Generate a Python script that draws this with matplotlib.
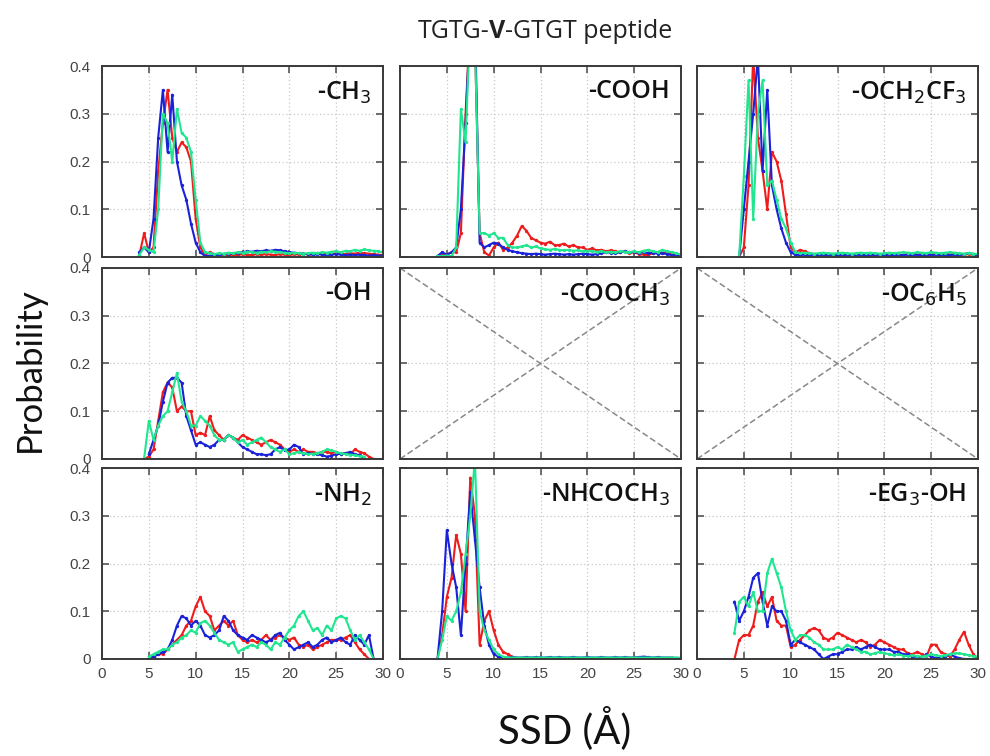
import numpy as np
import matplotlib
matplotlib.use("Agg")
import matplotlib.pyplot as plt

# ---------------- data ----------------
SSD = np.arange(4.0, 30.01, 0.5)   # 53 points, 4.0 .. 30.0 Å

labels = ["-CH$_3$", "-COOH", "-OCH$_2$CF$_3$",
          "-OH", "-COOCH$_3$", "-OC$_6$H$_5$",
          "-NH$_2$", "-NHCOCH$_3$", "-EG$_3$-OH"]

ch3_red = [0.005, 0.05, 0.01, 0.02, 0.18, 0.28, 0.35, 0.25, 0.22, 0.24,
           0.23, 0.20, 0.08, 0.02, 0.005, 0.01, 0.006, 0.004, 0.005, 0.004,
           0.005, 0.004, 0.006, 0.005, 0.004, 0.006, 0.005, 0.006, 0.005, 0.004,
           0.006, 0.005, 0.004, 0.006, 0.005, 0.007, 0.005, 0.006, 0.008, 0.006,
           0.007, 0.006, 0.008, 0.007, 0.006, 0.008, 0.007, 0.009, 0.008, 0.007,
           0.006, 0.005, 0.004]
ch3_blue = [0.01, 0.02, 0.01, 0.08, 0.25, 0.35, 0.22, 0.34, 0.20, 0.15,
            0.12, 0.07, 0.03, 0.01, 0.002, 0.003, 0.004, 0.005, 0.006, 0.007,
            0.008, 0.009, 0.010, 0.012, 0.011, 0.013, 0.012, 0.014, 0.013, 0.015,
            0.014, 0.012, 0.010, 0.009, 0.008, 0.007, 0.006, 0.005, 0.006, 0.005,
            0.004, 0.005, 0.006, 0.005, 0.004, 0.005, 0.004, 0.005, 0.004, 0.003,
            0.004, 0.003, 0.003]
ch3_green = [0.005, 0.02, 0.015, 0.01, 0.10, 0.30, 0.28, 0.20, 0.31, 0.26,
             0.25, 0.22, 0.12, 0.03, 0.01, 0.008, 0.006, 0.008, 0.007, 0.009,
             0.008, 0.010, 0.009, 0.011, 0.010, 0.009, 0.011, 0.010, 0.012, 0.011,
             0.010, 0.009, 0.008, 0.009, 0.008, 0.007, 0.008, 0.009, 0.008, 0.010,
             0.009, 0.011, 0.012, 0.010, 0.013, 0.012, 0.015, 0.013, 0.016, 0.014,
             0.013, 0.012, 0.010]

cooh_red = [0.0, 0.005, 0.005, 0.01, 0.01, 0.05, 0.30, 0.50, 0.45, 0.05,
            0.01, 0.003, 0.02, 0.03, 0.015, 0.02, 0.03, 0.045, 0.065, 0.055,
            0.04, 0.035, 0.03, 0.028, 0.032, 0.025, 0.025, 0.028, 0.022, 0.025,
            0.02, 0.02, 0.015, 0.018, 0.014, 0.015, 0.012, 0.014, 0.012, 0.01,
            0.012, 0.008, 0.01, 0.006, 0.005, 0.004, 0.008, 0.01, 0.008, 0.01,
            0.006, 0.004, 0.002]
cooh_blue = [0.002, 0.01, 0.005, 0.01, 0.02, 0.10, 0.28, 0.50, 0.50, 0.03,
             0.02, 0.025, 0.03, 0.028, 0.02, 0.015, 0.012, 0.01, 0.008, 0.007,
             0.006, 0.007, 0.006, 0.005, 0.006, 0.007, 0.006, 0.005, 0.006, 0.005,
             0.006, 0.007, 0.006, 0.005, 0.006, 0.008, 0.01, 0.009, 0.008, 0.01,
             0.012, 0.01, 0.011, 0.009, 0.01, 0.008, 0.009, 0.007, 0.008, 0.006,
             0.004, 0.003, 0.002]
cooh_green = [0.002, 0.002, 0.003, 0.002, 0.02, 0.31, 0.24, 0.50, 0.45, 0.05,
              0.05, 0.045, 0.05, 0.04, 0.04, 0.025, 0.02, 0.02, 0.022, 0.025,
              0.02, 0.022, 0.018, 0.016, 0.015, 0.017, 0.015, 0.014, 0.015, 0.013,
              0.014, 0.012, 0.013, 0.012, 0.011, 0.012, 0.01, 0.011, 0.01, 0.012,
              0.011, 0.01, 0.012, 0.01, 0.013, 0.015, 0.012, 0.01, 0.015, 0.012,
              0.01, 0.008, 0.005]

och2cf3_red = [None, 0.0, 0.02, 0.15, 0.42, 0.25, 0.18, 0.10, 0.22, 0.20,
               0.16, 0.09, 0.02, 0.01, 0.015, 0.012, 0.008, 0.006, 0.005, 0.006,
               0.005, 0.006, 0.005, 0.004, 0.006, 0.005, 0.006, 0.005, 0.004, 0.005,
               0.006, 0.005, 0.004, 0.005, 0.006, 0.005, 0.004, 0.006, 0.005, 0.006,
               0.005, 0.004, 0.006, 0.005, 0.006, 0.005, 0.006, 0.005, 0.006, 0.005,
               0.006, 0.005, 0.004]
och2cf3_blue = [None, 0.0, 0.10, 0.20, 0.30, 0.42, 0.18, 0.35, 0.15, 0.10,
                0.06, 0.03, 0.01, 0.005, 0.004, 0.005, 0.004, 0.005, 0.004, 0.005,
                0.004, 0.005, 0.004, 0.005, 0.004, 0.005, 0.004, 0.005, 0.004, 0.005,
                0.004, 0.005, 0.004, 0.005, 0.004, 0.005, 0.004, 0.005, 0.004, 0.005,
                0.004, 0.005, 0.004, 0.005, 0.004, 0.005, 0.004, 0.005, 0.004, 0.006,
                0.008, 0.006, 0.004]
och2cf3_green = [None, 0.0, 0.17, 0.37, 0.08, 0.30, 0.37, 0.15, 0.16, 0.12,
                 0.08, 0.06, 0.03, 0.01, 0.008, 0.009, 0.008, 0.007, 0.008, 0.009,
                 0.008, 0.007, 0.008, 0.009, 0.008, 0.007, 0.008, 0.009, 0.008, 0.009,
                 0.008, 0.007, 0.008, 0.009, 0.008, 0.009, 0.010, 0.009, 0.008, 0.010,
                 0.009, 0.008, 0.010, 0.009, 0.008, 0.009, 0.010, 0.009, 0.008, 0.007,
                 0.008, 0.007, 0.006]

oh_red = [None, 0.0, 0.005, 0.02, 0.08, 0.14, 0.16, 0.15, 0.10, 0.11,
          0.10, 0.10, 0.05, 0.055, 0.05, 0.09, 0.06, 0.05, 0.04, 0.05,
          0.045, 0.04, 0.05, 0.045, 0.04, 0.035, 0.03, 0.035, 0.04, 0.035,
          0.03, 0.02, 0.015, 0.02, 0.015, 0.02, 0.015, 0.015, 0.012, 0.015,
          0.015, 0.012, 0.015, 0.01, 0.012, 0.01, 0.02, 0.015, 0.012, 0.005,
          0.0, None, None]
oh_blue = [None, None, 0.01, 0.04, 0.07, 0.12, 0.16, 0.17, 0.17, 0.16,
           0.09, 0.06, 0.03, 0.035, 0.03, 0.025, 0.03, 0.04, 0.04, 0.05,
           0.045, 0.035, 0.025, 0.02, 0.015, 0.01, 0.01, 0.008, 0.01, 0.02,
           0.025, 0.018, 0.02, 0.03, 0.025, 0.01, 0.012, 0.011, 0.01, 0.008,
           0.005, 0.007, 0.01, 0.011, 0.012, 0.015, 0.01, 0.008, 0.002, None,
           None, None, None]
oh_green = [None, 0.002, 0.08, 0.04, 0.07, 0.09, 0.10, 0.14, 0.18, 0.12,
            0.10, 0.07, 0.07, 0.09, 0.08, 0.07, 0.05, 0.04, 0.04, 0.05,
            0.045, 0.035, 0.04, 0.03, 0.035, 0.04, 0.045, 0.035, 0.025, 0.02,
            0.015, 0.02, 0.01, 0.012, 0.015, 0.012, 0.01, 0.011, 0.012, 0.015,
            0.02, 0.018, 0.015, 0.012, 0.01, 0.009, 0.008, 0.006, 0.005, None,
            None, None, None]

nh2_red = [None, None, 0.0, 0.005, 0.01, 0.01, 0.02, 0.03, 0.04, 0.05,
           0.07, 0.08, 0.11, 0.13, 0.10, 0.09, 0.06, 0.07, 0.08, 0.07,
           0.08, 0.05, 0.04, 0.035, 0.04, 0.035, 0.04, 0.05, 0.04, 0.045,
           0.05, 0.045, 0.04, 0.045, 0.03, 0.025, 0.03, 0.02, 0.025, 0.03,
           0.035, 0.04, 0.04, 0.04, 0.045, 0.05, 0.035, 0.02, 0.01, 0.0,
           None, None, None]
nh2_blue = [None, None, 0.0, 0.005, 0.01, 0.015, 0.02, 0.04, 0.07, 0.09,
            0.085, 0.07, 0.08, 0.07, 0.05, 0.045, 0.05, 0.06, 0.09, 0.08,
            0.06, 0.05, 0.045, 0.04, 0.05, 0.045, 0.04, 0.035, 0.04, 0.05,
            0.055, 0.04, 0.03, 0.02, 0.025, 0.03, 0.035, 0.025, 0.03, 0.04,
            0.045, 0.035, 0.04, 0.045, 0.035, 0.03, 0.05, 0.04, 0.03, 0.05,
            0.0, None, None]
nh2_green = [None, None, 0.005, 0.01, 0.015, 0.02, 0.02, 0.03, 0.035, 0.045,
             0.05, 0.06, 0.055, 0.075, 0.08, 0.07, 0.055, 0.04, 0.035, 0.03,
             0.035, 0.015, 0.02, 0.025, 0.03, 0.025, 0.035, 0.03, 0.02, 0.035,
             0.03, 0.045, 0.06, 0.07, 0.09, 0.10, 0.08, 0.06, 0.065, 0.05,
             0.07, 0.06, 0.085, 0.09, 0.085, 0.06, 0.04, 0.05, 0.035, 0.02,
             0.0, None, None]

nhc_red = [0.0, 0.05, 0.13, 0.17, 0.26, 0.22, 0.10, 0.38, 0.30, 0.03,
           0.08, 0.10, 0.06, 0.03, 0.015, 0.01, 0.005, 0.002, 0.002, 0.002,
           0.002, 0.002, 0.002, 0.002, 0.002, 0.002, 0.002, 0.002, 0.002, 0.002,
           0.002, 0.002, 0.002, 0.002, 0.002, 0.002, 0.002, 0.002, 0.002, 0.002,
           0.002, 0.002, 0.003, 0.002, 0.002, 0.002, 0.002, 0.002, 0.002, 0.002,
           0.002, 0.002, 0.002]
nhc_blue = [0.0, 0.10, 0.27, 0.20, 0.15, 0.05, 0.20, 0.35, 0.25, 0.15,
            0.07, 0.03, 0.01, 0.005, 0.003, 0.003, 0.004, 0.003, 0.003, 0.004,
            0.003, 0.004, 0.003, 0.003, 0.004, 0.003, 0.004, 0.003, 0.003, 0.004,
            0.003, 0.003, 0.004, 0.003, 0.003, 0.004, 0.003, 0.003, 0.004, 0.003,
            0.004, 0.003, 0.003, 0.004, 0.005, 0.004, 0.003, 0.004, 0.003, 0.003,
            0.003, 0.002, 0.002]
nhc_green = [0.0, 0.04, 0.09, 0.08, 0.10, 0.14, 0.22, 0.30, 0.42, 0.10,
             0.06, 0.04, 0.02, 0.01, 0.005, 0.003, 0.003, 0.003, 0.003, 0.003,
             0.003, 0.003, 0.003, 0.003, 0.003, 0.003, 0.003, 0.003, 0.003, 0.003,
             0.003, 0.003, 0.003, 0.003, 0.003, 0.003, 0.003, 0.003, 0.003, 0.003,
             0.003, 0.003, 0.003, 0.003, 0.003, 0.003, 0.003, 0.003, 0.003, 0.003,
             0.003, 0.003, 0.003]

eg3_red = [0.0, 0.04, 0.05, 0.05, 0.07, 0.12, 0.14, 0.11, 0.13, 0.08,
           0.07, 0.07, 0.025, 0.03, 0.04, 0.05, 0.06, 0.065, 0.06, 0.045,
           0.04, 0.045, 0.055, 0.05, 0.045, 0.04, 0.035, 0.04, 0.035, 0.025,
           0.03, 0.04, 0.035, 0.03, 0.025, 0.02, 0.02, 0.012, 0.01, 0.015,
           0.01, 0.005, 0.03, 0.03, 0.015, 0.01, 0.005, 0.02, 0.04, 0.057,
           0.03, 0.01, 0.0]
eg3_blue = [0.12, 0.08, 0.10, 0.13, 0.17, 0.18, 0.12, 0.07, 0.11, 0.10,
            0.10, 0.08, 0.03, 0.04, 0.035, 0.03, 0.025, 0.02, 0.01, 0.0,
            0.005, 0.01, 0.01, 0.015, 0.02, 0.02, 0.025, 0.02, 0.025, 0.03,
            0.025, 0.02, 0.02, 0.02, 0.015, 0.015, 0.01, 0.01, 0.005, 0.005,
            0.002, 0.01, 0.005, 0.002, 0.002, 0.005, 0.01, 0.005, 0.002, 0.0,
            0.0, None, None]
eg3_green = [0.055, 0.12, 0.13, 0.11, 0.14, 0.10, 0.10, 0.18, 0.21, 0.18,
             0.15, 0.10, 0.06, 0.04, 0.05, 0.05, 0.045, 0.035, 0.03, 0.02,
             0.02, 0.02, 0.025, 0.02, 0.03, 0.025, 0.02, 0.015, 0.015, 0.01,
             0.012, 0.015, 0.012, 0.01, 0.008, 0.01, 0.007, 0.006, 0.008, 0.006,
             0.005, 0.007, 0.01, 0.008, 0.006, 0.008, 0.01, 0.012, 0.012, 0.01,
             0.008, 0.006, 0.005]

panels = [
    (ch3_red, ch3_blue, ch3_green),
    (cooh_red, cooh_blue, cooh_green),
    (och2cf3_red, och2cf3_blue, och2cf3_green),
    (oh_red, oh_blue, oh_green),
    None,
    None,
    (nh2_red, nh2_blue, nh2_green),
    (nhc_red, nhc_blue, nhc_green),
    (eg3_red, eg3_blue, eg3_green),
]

x_ticks = [0, 5, 10, 15, 20, 25, 30]
y_ticks = [0, 0.1, 0.2, 0.3, 0.4]
y_ticklabels = ["0", "0.1", "0.2", "0.3", "0.4"]
title_parts = [("TGTG-", "normal"), ("V", "bold"), ("-GTGT peptide", "normal")]

# ---------------- style ----------------
W, H = 990, 756
fig = plt.figure(figsize=(W / 100, H / 100), dpi=100)

colors = ["#ee1c1c", "#1a22d8", "#20e690"]
col_left = [102, 400, 697]
row_top = [66, 268, 468]
aw, ah = 281, 191

tickfont = dict(family=["Liberation Sans", "DejaVu Sans"], size=11, color="#444444")
labfont = ["Open Sans", "DejaVu Sans"]

for i in range(9):
    r, c = divmod(i, 3)
    left = col_left[c] / W
    bottom = 1 - (row_top[r] + ah) / H
    ax = fig.add_axes([left, bottom, aw / W, ah / H])
    ax.set_xlim(0, 30)
    ax.set_ylim(0, 0.4)
    ax.set_xticks(x_ticks)
    ax.set_yticks(y_ticks)
    ax.grid(True, linestyle=(0, (1, 2)), color="#c8c8c8", linewidth=0.9)
    ax.set_axisbelow(True)
    for s in ax.spines.values():
        s.set_color("#3a3a3a")
        s.set_linewidth(1.4)
    ax.tick_params(direction="in", length=5, width=1.2, color="#555555",
                   top=True, right=True)
    if c == 0:
        ax.set_yticklabels(y_ticklabels, fontdict=tickfont)
        ax.tick_params(axis="y", pad=8)
    else:
        ax.set_yticklabels([])
    if r == 2:
        ax.set_xticklabels([str(t) for t in x_ticks], fontdict=tickfont)
        ax.tick_params(axis="x", pad=6)
    else:
        ax.set_xticklabels([])

    data = panels[i]
    if data is None:
        ax.plot([0, 1], [0, 1], transform=ax.transAxes, color="#888888",
                linestyle=(0, (4, 2)), linewidth=1.1)
        ax.plot([0, 1], [1, 0], transform=ax.transAxes, color="#888888",
                linestyle=(0, (4, 2)), linewidth=1.1)
    else:
        for ys, col in zip(data, colors):
            yv = np.array(ys, dtype=float)
            ax.plot(SSD[:len(yv)], yv, color=col, linewidth=1.5,
                    marker="o", markersize=2.4, markeredgewidth=0)
    ax.text(0.96, 0.93, labels[i], transform=ax.transAxes, ha="right", va="top",
            fontsize=18, family=labfont, weight=600, color="#111111")

# title built from pieces (bold V) placed one after another
renderer = fig.canvas.get_renderer()
pieces = []
for txt, wt in title_parts:
    t = fig.text(0, 1 - 32 / H, txt, fontsize=18, family=labfont, weight=wt,
                 color="#222222", ha="left", va="center")
    pieces.append(t)
widths = [p.get_window_extent(renderer).width for p in pieces]
x0 = 545 - sum(widths) / 2
for p, w in zip(pieces, widths):
    p.set_x(x0 / W)
    x0 += w

fig.text(30 / W, 1 - 370 / H, "Probability", rotation=90, fontsize=25,
         family=["Lato", "DejaVu Sans"], ha="center", va="center", color="#111111")
fig.text(565 / W, 1 - 728 / H, "SSD (Å)", fontsize=29,
         family=["Lato", "DejaVu Sans"], ha="center", va="center", color="#111111")

fig.savefig("out.png", dpi=100, facecolor="white")
